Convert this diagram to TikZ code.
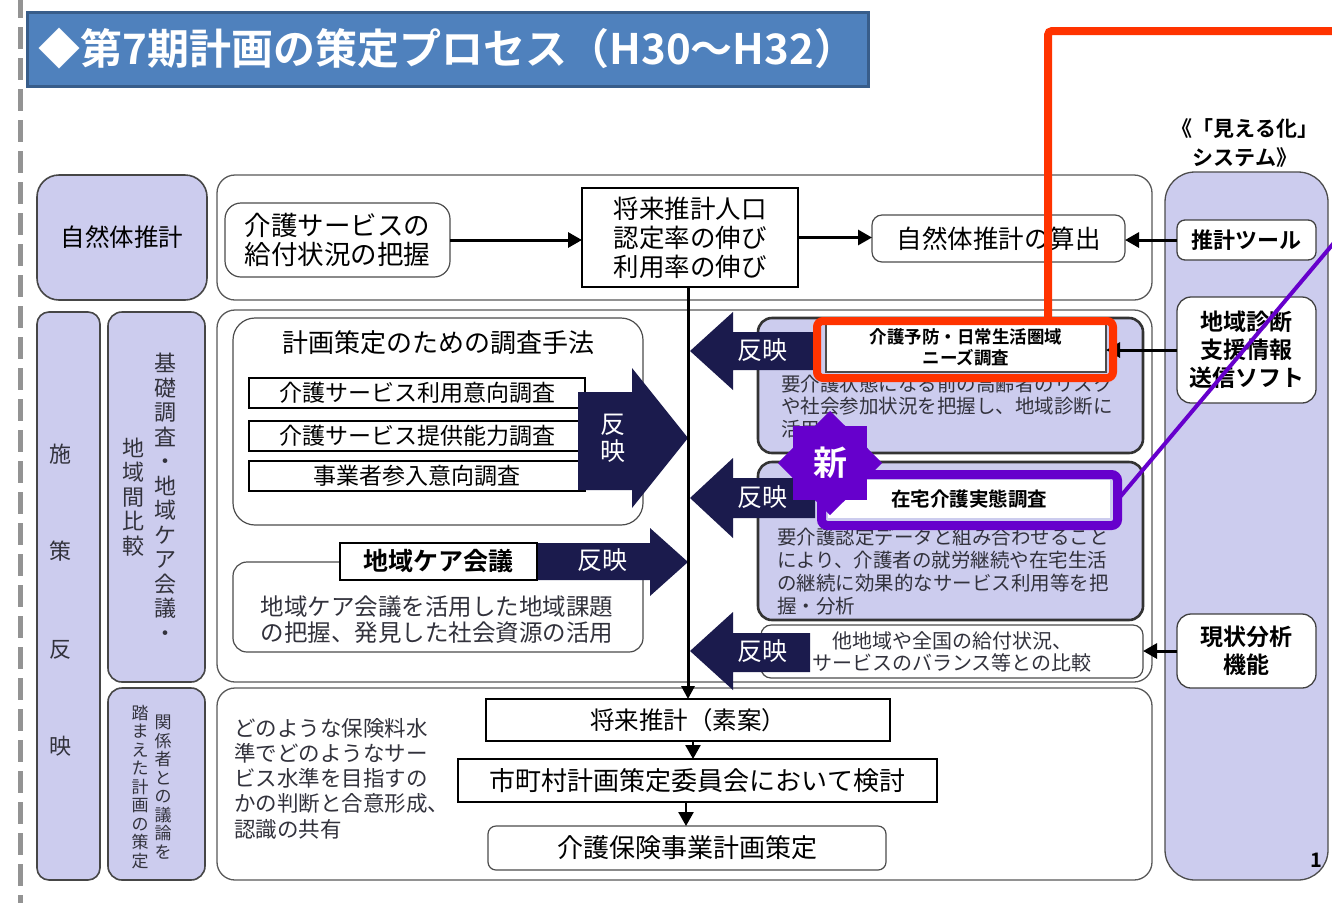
\documentclass[tikz,border=0pt]{standalone}
\usepackage{fontspec}
\setmainfont{Noto Sans CJK JP}[BoldFont={Noto Sans CJK JP Bold}]
\usetikzlibrary{arrows.meta,shapes.geometric}
\definecolor{lav}{RGB}{204,204,238}
\definecolor{navy}{RGB}{27,27,77}
\definecolor{titleblue}{RGB}{79,129,189}
\definecolor{titleborder}{RGB}{56,93,138}
\definecolor{redf}{RGB}{255,51,0}
\definecolor{purp}{RGB}{102,0,204}
\definecolor{txtgray}{RGB}{50,50,60}
\newcommand{\jfs}[2]{\fontsize{#1}{#2}\selectfont}
\begin{document}
\begin{tikzpicture}[x=1pt,y=-1pt,
  every node/.style={inner sep=0pt, outer sep=0pt},
  panel/.style={draw=gray!70!black, line width=1.3pt, rounded corners=18pt, fill=white},
  lavbox/.style={draw=gray!55!black, line width=1.6pt, rounded corners=14pt, fill=lav},
  darklav/.style={draw=black!80, line width=2.6pt, rounded corners=14pt, fill=lav},
  sqbox/.style={draw=black, line width=1.2pt, fill=white},
  rbox/.style={draw=gray!60!black, line width=1.2pt, rounded corners=10pt, fill=white},
  sysbox/.style={draw=black!75, line width=1.3pt, rounded corners=10pt, fill=white, align=center, font=\bfseries\jfs{23}{28}},
  arr/.style={line width=3pt, -{Triangle[length=14pt,width=15pt]}},
  bignav/.style={fill=navy},
  navtxt/.style={text=white, font=\jfs{25}{27}, align=center}
]
\useasboundingbox (0,0) rectangle (1332,903);
\fill[white] (0,0) rectangle (1332,903);
% dashed left line
\draw[gray!85, line width=5pt, dash pattern=on 22pt off 9pt] (20,-4) -- (20,903);

% title
\node[draw=titleborder, fill=titleblue, line width=3pt, minimum width=841pt, minimum height=74pt,
  text=white, font=\bfseries\jfs{42}{44}] (title) at (447.5,49) {◆第7期計画の策定プロセス（H30～H32）};

% left column
\node[lavbox, rounded corners=22pt, minimum width=170pt, minimum height=125pt, font=\jfs{24.5}{26}] (nat) at (122,237.5) {自然体推計};
\node[lavbox, rounded corners=12pt, minimum width=63pt, minimum height=568pt] (shisaku) at (68.5,596) {};
\node[align=center, font=\jfs{22}{97.5}, text=txtgray] (shisakutxt) at (60,600) {施\\策\\反\\映};
\node[lavbox, rounded corners=14pt, minimum width=97pt, minimum height=370pt] (kiso) at (156.5,497) {};
\node[align=center, font=\jfs{22}{24.5}, text=txtgray] (kisoR) at (165,497) {基\\礎\\調\\査\\・\\地\\域\\ケ\\ア\\会\\議\\・};
\node[align=center, font=\jfs{22}{24.5}, text=txtgray] (kisoL) at (133,497) {地\\域\\間\\比\\較};
\node[lavbox, rounded corners=14pt, minimum width=97pt, minimum height=192pt] (kankei) at (156.5,784) {};
\node[align=center, font=\jfs{17}{18.5}, text=txtgray] (kankeiR) at (163,787) {関\\係\\者\\と\\の\\議\\論\\を};
\node[align=center, font=\jfs{17}{18.5}, text=txtgray] (kankeiL) at (140,787) {踏\\ま\\え\\た\\計\\画\\の\\策\\定};

% panels
\node[panel, minimum width=935pt, minimum height=125pt] (ptop) at (684.5,237.5) {};
\node[panel, minimum width=935pt, minimum height=372pt] (pmid) at (684.5,496) {};
\node[panel, minimum width=935pt, minimum height=192pt] (pbot) at (684.5,784) {};

% top panel content
\node[rbox, rounded corners=16pt, minimum width=225pt, minimum height=74pt, align=center, font=\jfs{26.5}{29}] (kyufu) at (337.5,240) {介護サービスの\\給付状況の把握};
\node[sqbox, minimum width=216pt, minimum height=99pt, align=center, font=\jfs{25.5}{29}] (jinko) at (690,237.5) {将来推計人口\\認定率の伸び\\利用率の伸び};
\node[rbox, minimum width=253pt, minimum height=47pt, font=\jfs{25.5}{26}] (santei) at (998.5,238.5) {自然体推計の算出};
\draw[arr] (kyufu.east) -- (kyufu.east -| jinko.west);
\draw[arr] (jinko.east) -- (jinko.east -| santei.west);

% mieru system
\node[align=center, font=\bfseries\jfs{21}{29}] (mierutitle) at (1245,143) {《「見える化」\\システム》};
\node[draw=black!70, line width=1.3pt, rounded corners=30pt, fill=lav, minimum width=163pt, minimum height=708pt] (mieru) at (1246.5,526) {};
\node[sysbox, rounded corners=8pt, minimum width=139pt, minimum height=40pt, font=\bfseries\jfs{22}{24}] (tool) at (1246.5,240) {推計ツール};
\node[sysbox, rounded corners=14pt, minimum width=139pt, minimum height=106pt] (shindan) at (1246.5,350) {地域診断\\支援情報\\送信ソフト};
\node[sysbox, rounded corners=14pt, minimum width=139pt, minimum height=74pt] (genjo) at (1246.5,651) {現状分析\\機能};
\node[font=\bfseries\jfs{20}{22}] (pageno) at (1316,860) {1};
\draw[arr] (tool.west) -- (tool.west -| santei.east);

% middle panel: survey methods
\node[rbox, rounded corners=22pt, minimum width=410pt, minimum height=207pt] (chosa) at (438,421.5) {};
\node[font=\jfs{26}{28}] (chosatitle) at (438,343) {計画策定のための調査手法};
\node[sqbox, minimum width=336pt, minimum height=30pt, font=\jfs{23}{24}] (s1) at (417,393) {介護サービス利用意向調査};
\node[sqbox, minimum width=336pt, minimum height=30pt, font=\jfs{23}{24}] (s2) at (417,436) {介護サービス提供能力調査};
\node[sqbox, minimum width=336pt, minimum height=30pt, font=\jfs{23}{24}] (s3) at (417,476) {事業者参入意向調査};
\fill[bignav] (578,392) -- (632,392) -- (632,368) -- (688,438) -- (632,508) -- (632,490) -- (578,490) -- cycle;
\node[navtxt] (hanA) at (613,438) {反\\映};

% chiiki care kaigi
\node[rbox, rounded corners=14pt, minimum width=410pt, minimum height=90pt] (kaigi) at (438,607) {};
\fill[bignav] (537,543) -- (650,543) -- (650,528) -- (688,562) -- (650,596) -- (650,580) -- (537,580) -- cycle;
\node[navtxt] (hanB) at (602,560) {反映};
\node[sqbox, minimum width=197pt, minimum height=37pt, font=\bfseries\jfs{25}{26}] (kaigiH) at (438.5,561.5) {地域ケア会議};
\node[align=center, font=\jfs{23.5}{26}, text=txtgray] (kaigitxt) at (437,620) {地域ケア会議を活用した地域課題\\の把握、発見した社会資源の活用};

% right survey boxes
\node[darklav, minimum width=385pt, minimum height=135pt] (yobo) at (950.5,385.5) {};
\node[anchor=north west, align=left, font=\jfs{19.5}{22.5}, text=txtgray] (yobotxt) at (781,375) {要介護状態になる前の高齢者のリスク\\や社会参加状況を把握し、地域診断に\\活用};
\node[darklav, minimum width=385pt, minimum height=158pt] (zaitaku) at (950.5,541) {};
\node[anchor=north west, align=left, font=\jfs{19.5}{23}, text=txtgray] (zaitakutxt) at (777,528) {要介護認定データと組み合わせること\\により、介護者の就労継続や在宅生活\\の継続に効果的なサービス利用等を把\\握・分析};
\node[rbox, minimum width=382pt, minimum height=53pt, align=center, font=\jfs{20}{22}, text=txtgray] (tachiki) at (952,651.5) {他地域や全国の給付状況、\\サービスのバランス等との比較};

% left-pointing arrows
\fill[bignav] (815,332) -- (733,332) -- (733,312) -- (690,351) -- (733,390) -- (733,370) -- (815,370) -- cycle;
\node[navtxt] (hanC) at (762,350) {反映};
\fill[bignav] (815,478) -- (733,478) -- (733,458) -- (690,498) -- (733,538) -- (733,518) -- (815,518) -- cycle;
\node[navtxt] (hanD) at (762,497) {反映};
\fill[bignav] (810,633) -- (733,633) -- (733,612) -- (690,651) -- (733,690) -- (733,672) -- (810,672) -- cycle;
\node[navtxt] (hanE) at (762,651) {反映};

% headers
\node[draw=black!70, line width=1.2pt, fill=white, minimum width=280pt, minimum height=50pt, align=center, font=\bfseries\jfs{17.5}{21}] (needs) at (966,347) {介護予防・日常生活圏域\\ニーズ調査};
\node[fill=white, minimum width=282pt, minimum height=38pt, font=\bfseries\jfs{19.5}{21}] (zaitakuH) at (969,499) {在宅介護実態調査};

\draw[arr] (shindan.west) -- (shindan.west -| needs.east);
\draw[arr] (genjo.west) -- (genjo.west -| tachiki.east);

% bottom panel
\node[anchor=north west, align=left, font=\jfs{21.5}{25.3}, text=txtgray] (gouitxt) at (234,718) {どのような保険料水\\準でどのようなサー\\ビス水準を目指すの\\かの判断と合意形成、\\認識の共有};
\node[sqbox, minimum width=404pt, minimum height=42pt, font=\jfs{24.5}{26}] (soan) at (688,720) {将来推計（素案）};
\node[sqbox, minimum width=479pt, minimum height=43pt, font=\jfs{26}{28}] (iinkai) at (697.5,780.5) {市町村計画策定委員会において検討};
\node[rbox, rounded corners=8pt, minimum width=398pt, minimum height=44pt, font=\jfs{26}{28}] (sakutei) at (687,848) {介護保険事業計画策定};
\draw[arr, line width=2.5pt] (soan.south -| 693,0) -- (iinkai.north -| 693,0);
\draw[arr, line width=2.5pt] (iinkai.south -| 686,0) -- (sakutei.north -| 686,0);

% main vertical line
\draw[arr, line width=3pt, -{Triangle[length=13pt,width=13pt]}] (jinko.south -| soan.north) -- (soan.north);

% red highlight
\node[draw=redf, line width=8pt, rounded corners=6pt, minimum width=296pt, minimum height=57pt] (redfr) at (965,349.5) {};
\coordinate (redcorner) at (1048,31);
\coordinate (redend) at (1340,31);
\draw[redf, line width=8pt, rounded corners=4pt] (redcorner |- redfr.north) -- (redcorner) -- (redend);

% purple highlight
\node[draw=purp, line width=9pt, rounded corners=6pt, minimum width=296pt, minimum height=51pt] (purfr) at (969.5,500) {};
\coordinate (purend) at (1338,238);
\draw[purp, line width=4pt] (purfr.east) -- (purend);
\node[star, star points=8, star point ratio=1.3, fill=purp, minimum size=104pt] (newstar) at (830,463) {};
\node[text=white, font=\bfseries\jfs{34}{36}] (shin) at (newstar.center) {新};
\end{tikzpicture}
\end{document}
